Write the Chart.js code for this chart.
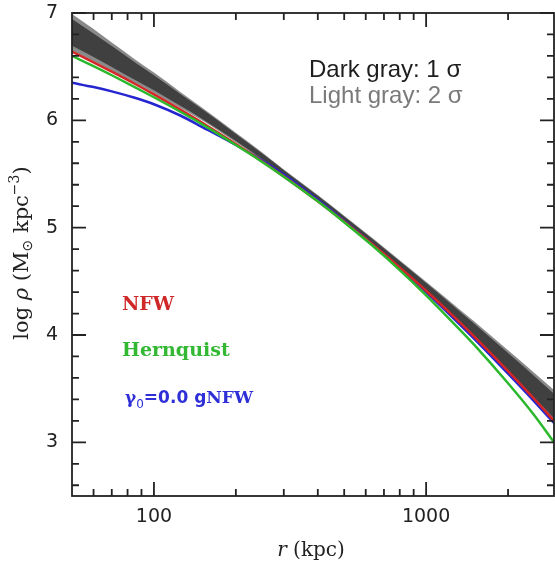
<!DOCTYPE html>
<html>
<head>
<meta charset="utf-8">
<script src="https://cdn.jsdelivr.net/npm/chart.js@4.4.0/dist/chart.umd.min.js"></script>
<style>
  html, body { margin: 0; padding: 0; background: #fff; }
  #wrap { width: 555px; height: 562px; position: relative; }
</style>
</head>
<body>
<div id="wrap"><canvas id="profile"></canvas></div>
<script>
const radii = [50, 60, 70, 85, 100, 125, 150, 200, 250, 300, 400, 500, 650, 800, 1000, 1250, 1500, 2000, 2500, 2950];

// log density of the fitted profiles
const nfw = [6.64, 6.541, 6.454, 6.341, 6.242, 6.100, 5.980, 5.780, 5.617, 5.478, 5.247, 5.058, 4.824, 4.630, 4.412, 4.182, 3.987, 3.664, 3.402, 3.200];
const hernquist = [6.60, 6.505, 6.42, 6.31, 6.215, 6.08, 5.965, 5.77, 5.612, 5.475, 5.245, 5.05, 4.81, 4.605, 4.37, 4.12, 3.91, 3.55, 3.25, 3.00];
const gnfw = [6.35, 6.31, 6.27, 6.21, 6.15, 6.045, 5.94, 5.77, 5.625, 5.495, 5.26, 5.065, 4.825, 4.625, 4.40, 4.165, 3.967, 3.64, 3.38, 3.18];

// confidence bands (light gray = 2 sigma, dark gray = 1 sigma)
const band2Upper = [6.99, 6.85, 6.725, 6.57, 6.445, 6.265, 6.12, 5.885, 5.70, 5.543, 5.304, 5.111, 4.883, 4.697, 4.497, 4.294, 4.127, 3.858, 3.647, 3.487];
const band1Upper = [6.945, 6.81, 6.692, 6.542, 6.42, 6.245, 6.105, 5.873, 5.691, 5.536, 5.298, 5.104, 4.874, 4.686, 4.484, 4.278, 4.107, 3.833, 3.616, 3.453];
const band1Lower = [6.695, 6.59, 6.498, 6.378, 6.28, 6.135, 6.015, 5.807, 5.639, 5.494, 5.262, 5.066, 4.826, 4.624, 4.400, 4.170, 3.977, 3.663, 3.414, 3.225];
const band2Lower = [6.65, 6.55, 6.465, 6.35, 6.255, 6.115, 6.00, 5.795, 5.63, 5.487, 5.256, 5.059, 4.817, 4.613, 4.387, 4.154, 3.957, 3.638, 3.383, 3.191];

// axis ticks
const xMajorTicks = [100, 1000];
const xMinorTicks = [60, 70, 80, 90, 200, 300, 400, 500, 600, 700, 800, 900, 2000];
const yMajorTicks = [3, 4, 5, 6, 7];
const yMinorTicks = [2.6, 2.8, 3.2, 3.4, 3.6, 3.8, 4.2, 4.4, 4.6, 4.8, 5.2, 5.4, 5.6, 5.8, 6.2, 6.4, 6.6, 6.8];

const toPoints = vals => radii.map((r, i) => ({ x: r, y: vals[i] }));

// draw a run of text pieces with different fonts next to each other
function drawRich(ctx, parts, x, y, align) {
    let total = 0;
    parts.forEach(p => {
        ctx.font = p.font;
        p.w = ctx.measureText(p.text).width;
        total += p.w;
    });
    let cx = align === 'center' ? x - total / 2 : x;
    parts.forEach(p => {
        ctx.font = p.font;
        ctx.fillStyle = p.color || '#222';
        ctx.fillText(p.text, cx, y + (p.dy || 0));
        cx += p.w;
    });
}

// keep the plot box where the figure has it: no extra room for edge labels
function fixBox(scale, size) {
    if (scale.isHorizontal()) scale.height = size;
    else scale.width = size;
    scale.paddingTop = 0;
    scale.paddingBottom = 0;
    scale.paddingLeft = 0;
    scale.paddingRight = 0;
}

// frame with inward ticks on all four sides
const frameTicks = {
    id: 'frameTicks',
    afterDatasetsDraw(chart) {
        const { ctx, chartArea: a, scales: { x, y } } = chart;
        ctx.save();
        ctx.strokeStyle = '#222';
        ctx.lineWidth = 1.8;
        ctx.strokeRect(a.left, a.top, a.right - a.left, a.bottom - a.top);
        ctx.beginPath();
        const xTick = (v, len) => {
            const px = x.getPixelForValue(v);
            ctx.moveTo(px, a.bottom); ctx.lineTo(px, a.bottom - len);
            ctx.moveTo(px, a.top); ctx.lineTo(px, a.top + len);
        };
        const yTick = (v, len) => {
            const py = y.getPixelForValue(v);
            ctx.moveTo(a.left, py); ctx.lineTo(a.left + len, py);
            ctx.moveTo(a.right, py); ctx.lineTo(a.right - len, py);
        };
        xMajorTicks.forEach(v => xTick(v, 14));
        xMinorTicks.forEach(v => xTick(v, 7));
        yMajorTicks.forEach(v => yTick(v, 14));
        yMinorTicks.forEach(v => yTick(v, 7));
        ctx.stroke();
        ctx.restore();
    },
    afterDraw(chart) {
        const ctx = chart.ctx;
        ctx.save();
        ctx.textBaseline = 'alphabetic';

        // y axis title
        ctx.save();
        ctx.translate(28, 253);
        ctx.rotate(-Math.PI / 2);
        drawRich(ctx, [
            { text: 'log ', font: '21px "DejaVu Serif"' },
            { text: 'ρ', font: 'italic 21px "DejaVu Serif"' },
            { text: ' (M', font: '21px "DejaVu Serif"' },
            { text: '⊙', font: '14px "DejaVu Sans"', dy: 4 },
            { text: ' kpc', font: '21px "DejaVu Serif"' },
            { text: '−3', font: '14px "DejaVu Serif"', dy: -9 },
            { text: ')', font: '21px "DejaVu Serif"' }
        ], 0, 0, 'center');
        ctx.restore();

        // x axis title
        drawRich(ctx, [
            { text: 'r', font: 'italic 20px "DejaVu Serif"' },
            { text: ' (kpc)', font: '20px "DejaVu Serif"' }
        ], 311, 556, 'center');

        // sigma notes
        drawRich(ctx, [{ text: 'Dark gray: 1 σ', font: '24px "Liberation Sans"', color: '#1e1e1e' }], 309, 77, 'left');
        drawRich(ctx, [{ text: 'Light gray: 2 σ', font: '24px "Liberation Sans"', color: '#7a7a7a' }], 309, 103, 'left');

        // model labels
        drawRich(ctx, [{ text: 'NFW', font: 'bold 19px "DejaVu Serif"', color: '#d02828' }], 122, 310, 'left');
        drawRich(ctx, [{ text: 'Hernquist', font: 'bold 19px "DejaVu Serif"', color: '#33b833' }], 122, 356, 'left');
        drawRich(ctx, [
            { text: 'γ', font: 'bold 17px "DejaVu Serif"', color: '#2f2fd8' },
            { text: '0', font: '12px "DejaVu Sans"', color: '#2f2fd8', dy: 5 },
            { text: '=0.0 g', font: 'bold 17px "DejaVu Sans"', color: '#2f2fd8' },
            { text: 'NFW', font: 'bold 17px "DejaVu Serif"', color: '#2f2fd8' }
        ], 125, 403, 'left');
        ctx.restore();
    }
};

const bandStyle = {
    pointRadius: 0,
    borderWidth: 0,
    borderColor: 'transparent',
    cubicInterpolationMode: 'monotone'
};
const lineStyle = {
    pointRadius: 0,
    borderWidth: 2.5,
    fill: false,
    cubicInterpolationMode: 'monotone'
};

new Chart(document.getElementById('profile'), {
    type: 'line',
    data: {
        datasets: [
            { ...bandStyle, label: '2 sigma', data: toPoints(band2Upper), fill: 3, backgroundColor: '#8a8a8a', order: 20 },
            { ...bandStyle, label: '1 sigma', data: toPoints(band1Upper), fill: 2, backgroundColor: '#404040', order: 19 },
            { ...bandStyle, label: '1 sigma low', data: toPoints(band1Lower), fill: false, order: 18 },
            { ...bandStyle, label: '2 sigma low', data: toPoints(band2Lower), fill: false, order: 17 },
            { ...lineStyle, label: 'gNFW', data: toPoints(gnfw), borderColor: '#2626d0', order: 3 },
            { ...lineStyle, label: 'NFW', data: toPoints(nfw), borderColor: '#d42626', order: 2 },
            { ...lineStyle, label: 'Hernquist', data: toPoints(hernquist), borderColor: '#2cb82c', order: 1 }
        ]
    },
    options: {
        responsive: true,
        maintainAspectRatio: false,
        animation: false,
        devicePixelRatio: 1,
        layout: { padding: { top: 13, right: 1, left: 0, bottom: 0 } },
        plugins: {
            legend: { display: false },
            tooltip: { enabled: false },
            filler: { propagate: false }
        },
        scales: {
            x: {
                type: 'logarithmic',
                min: 50,
                max: 2950,
                grid: { display: false, drawTicks: false },
                border: { display: false },
                ticks: {
                    autoSkip: false,
                    maxRotation: 0,
                    padding: 10,
                    color: '#222',
                    font: { family: 'DejaVu Sans', size: 19 },
                    callback: v => xMajorTicks.some(t => Math.abs(v - t) < 1e-6) ? String(Math.round(v)) : ''
                },
                afterFit: s => fixBox(s, 66)
            },
            y: {
                min: 2.5,
                max: 7,
                grid: { display: false, drawTicks: false },
                border: { display: false },
                ticks: {
                    stepSize: 0.5,
                    autoSkip: false,
                    padding: 14,
                    color: '#222',
                    font: { family: 'DejaVu Sans', size: 19 },
                    callback: v => Number.isInteger(v) ? String(v) : ''
                },
                afterFit: s => fixBox(s, 72)
            }
        }
    },
    plugins: [frameTicks]
});
</script>
</body>
</html>
